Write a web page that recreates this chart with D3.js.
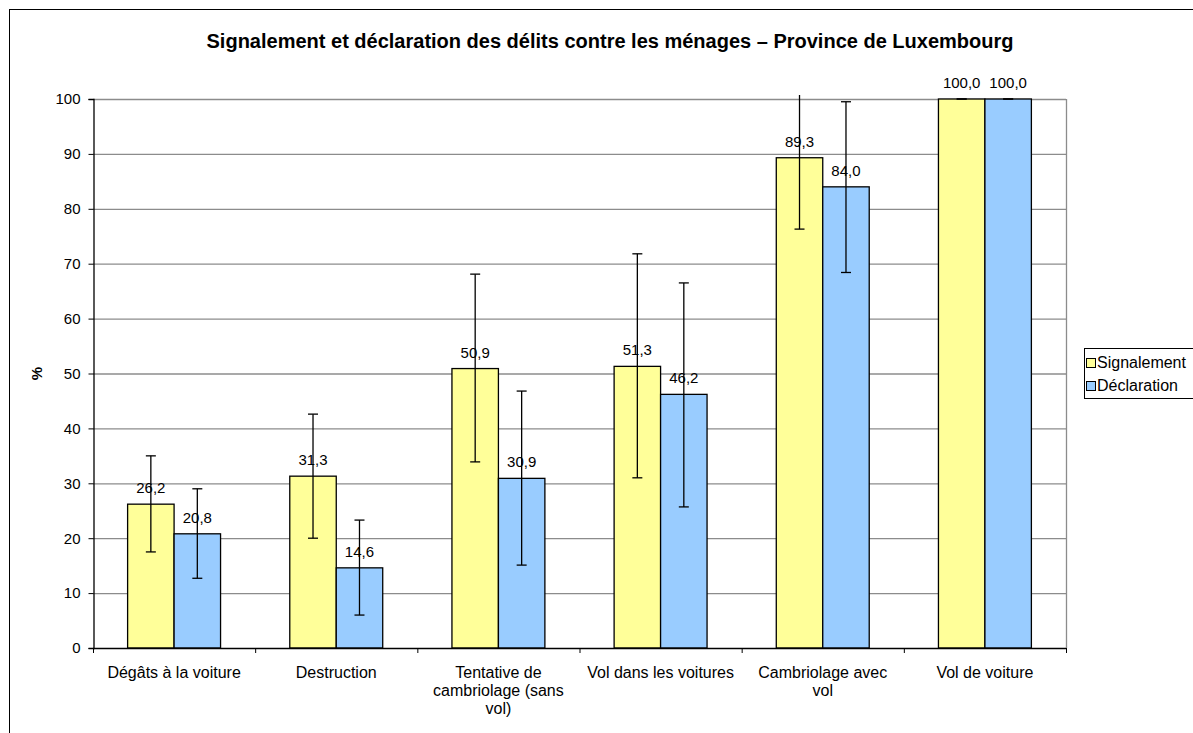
<!DOCTYPE html>
<html lang="fr">
<head>
<meta charset="UTF-8">
<title>Signalement et déclaration</title>
<script src="https://d3js.org/d3.v7.min.js"></script>
<style>
  body { margin: 0; background: #fff; }
  text { font-family: "Liberation Sans", Arial, sans-serif; }
</style>
</head>
<body>
<script>
    var categories = ['Dégâts à la voiture', 'Destruction', 'Tentative de cambriolage (sans vol)',
                      'Vol dans les voitures', 'Cambriolage avec vol', 'Vol de voiture'];
    var labelLines = [['Dégâts à la voiture'], ['Destruction'], ['Tentative de', 'cambriolage (sans', 'vol)'],
                      ['Vol dans les voitures'], ['Cambriolage avec', 'vol'], ['Vol de voiture']];
    var series = ['Signalement', 'Déclaration'];
    var signalement = [26.2, 31.3, 50.9, 51.3, 89.3, 100.0];
    var declaration = [20.8, 14.6, 30.9, 46.2, 84.0, 100.0];
    // bornes des intervalles (bas, haut)
    var signalementLow  = [17.5, 20.0, 33.9, 31.0, 76.3, 100.0];
    var signalementHigh = [35.0, 42.6, 68.1, 71.8, 102.3, 100.0];
    var declarationLow  = [12.7, 6.0, 15.1, 25.7, 68.4, 100.0];
    var declarationHigh = [29.0, 23.3, 46.8, 66.5, 99.5, 100.0];
    var yTicks = [0, 10, 20, 30, 40, 50, 60, 70, 80, 90, 100];
    var colors = ['#FFFF99', '#99CCFF'];

    var W = 1193, H = 733;
    var pL = 93, pR = 1066, pT = 99, pB = 648;

    var svg = d3.select('body').append('svg')
        .attr('width', W).attr('height', H);

    // cadre extérieur
    svg.append('rect')
        .attr('x', 9.5).attr('y', 9.5)
        .attr('width', W).attr('height', H)
        .attr('fill', 'none').attr('stroke', '#000').attr('stroke-width', 1);

    svg.append('text')
        .attr('x', 610).attr('y', 48)
        .attr('text-anchor', 'middle')
        .style('font-size', '20px').style('font-weight', 'bold')
        .text('Signalement et déclaration des délits contre les ménages – Province de Luxembourg');

    var x0 = d3.scaleBand().domain(categories).range([pL, pR]).paddingInner(0).paddingOuter(0);
    var x1 = d3.scaleBand().domain(series).range([0, x0.bandwidth()]).paddingInner(0).paddingOuter(0.7448);
    var y = d3.scaleLinear().domain([0, 100]).range([pB, pT]);

    // grille
    svg.append('g').selectAll('line')
        .data(yTicks.filter(function(d) { return d > 0; }))
        .enter().append('line')
        .attr('x1', pL).attr('x2', pR)
        .attr('y1', function(d) { return y(d) + 0.5; })
        .attr('y2', function(d) { return y(d) + 0.5; })
        .attr('stroke', '#8c8c8c').attr('stroke-width', 1.3);
    // bord droit de la zone de traçage
    svg.append('line')
        .attr('x1', pR + 0.5).attr('x2', pR + 0.5)
        .attr('y1', pT).attr('y2', pB)
        .attr('stroke', '#8c8c8c').attr('stroke-width', 1.3);

    // axe Y
    var yAxis = svg.append('g')
        .attr('transform', 'translate(' + (pL + 0.5) + ',0)')
        .call(d3.axisLeft(y).tickValues(yTicks).tickSize(5).tickPadding(8).tickFormat(d3.format('d')));
    yAxis.select('.domain').attr('stroke', '#000').attr('stroke-width', 1.3);
    yAxis.selectAll('text').style('font-size', '15px').attr('fill', '#000')
        .style('font-family', '"Liberation Sans", Arial, sans-serif');

    svg.append('text')
        .attr('transform', 'translate(42,' + ((pT + pB) / 2) + ') rotate(-90)')
        .attr('text-anchor', 'middle')
        .style('font-size', '15px').style('font-weight', 'bold')
        .text('%');

    var vals = [signalement, declaration];
    var lows = [signalementLow, declarationLow];
    var highs = [signalementHigh, declarationHigh];

    var groups = svg.append('g').selectAll('g')
        .data(categories)
        .enter().append('g')
        .attr('transform', function(d) { return 'translate(' + x0(d) + ',0)'; });

    series.forEach(function(s, si) {
        groups.append('rect')
            .attr('x', x1(s))
            .attr('y', function(d, i) { return y(vals[si][i]); })
            .attr('width', x1.bandwidth())
            .attr('height', function(d, i) { return pB - y(vals[si][i]); })
            .attr('fill', colors[si])
            .attr('stroke', '#000').attr('stroke-width', 1.3);
    });

    // axe X
    svg.append('line')
        .attr('x1', pL).attr('x2', pR)
        .attr('y1', pB + 0.5).attr('y2', pB + 0.5)
        .attr('stroke', '#000').attr('stroke-width', 1.3);
    svg.append('g').selectAll('line')
        .data(d3.range(categories.length + 1))
        .enter().append('line')
        .attr('x1', function(i) { return pL + i * x0.step() + 0.5; })
        .attr('x2', function(i) { return pL + i * x0.step() + 0.5; })
        .attr('y1', pB).attr('y2', pB + 5)
        .attr('stroke', '#000').attr('stroke-width', 1);

    // barres d'erreur
    series.forEach(function(s, si) {
        var cx = x1(s) + x1.bandwidth() / 2;
        var eb = groups.append('g');
        eb.append('line')
            .attr('x1', cx).attr('x2', cx)
            .attr('y1', function(d, i) { return Math.max(y(highs[si][i]), pT - 4); })
            .attr('y2', function(d, i) { return y(lows[si][i]); })
            .attr('stroke', '#000').attr('stroke-width', 1.3);
        [lows, highs].forEach(function(arr) {
            eb.append('line')
                .attr('x1', cx - 5)
                .attr('x2', cx + 5)
                .attr('y1', function(d, i) { return y(arr[si][i]); })
                .attr('y2', function(d, i) { return y(arr[si][i]); })
                .attr('stroke', '#000').attr('stroke-width', 1.3)
                .style('display', function(d, i) { return arr[si][i] > 100 ? 'none' : null; });
        });
    });

    // étiquettes de valeur
    series.forEach(function(s, si) {
        groups.append('text')
            .attr('x', x1(s) + x1.bandwidth() / 2)
            .attr('y', function(d, i) { return y(vals[si][i]) - 11; })
            .attr('text-anchor', 'middle')
            .style('font-size', '15px')
            .text(function(d, i) { return vals[si][i].toFixed(1).replace('.', ','); });
    });

    // libellés des catégories
    groups.append('text')
        .attr('text-anchor', 'middle')
        .style('font-size', '16px')
        .selectAll('tspan')
        .data(function(d, i) { return labelLines[i]; })
        .enter().append('tspan')
        .attr('x', x0.bandwidth() / 2)
        .attr('y', function(d, j) { return pB + 30 + j * 18; })
        .text(function(d) { return d; });

    // légende
    var lg = svg.append('g').attr('transform', 'translate(1084,348)');
    lg.append('rect').attr('x', 0.5).attr('y', 0.5).attr('width', 130).attr('height', 50)
        .attr('fill', '#fff').attr('stroke', '#000').attr('stroke-width', 1);
    series.forEach(function(s, si) {
        lg.append('rect')
            .attr('x', 2.5).attr('y', 10.5 + si * 23)
            .attr('width', 9).attr('height', 9)
            .attr('fill', colors[si]).attr('stroke', '#000').attr('stroke-width', 1);
        lg.append('text')
            .attr('x', 13).attr('y', 20 + si * 23)
            .style('font-size', '16px')
            .text(s);
    });
</script>
</body>
</html>
